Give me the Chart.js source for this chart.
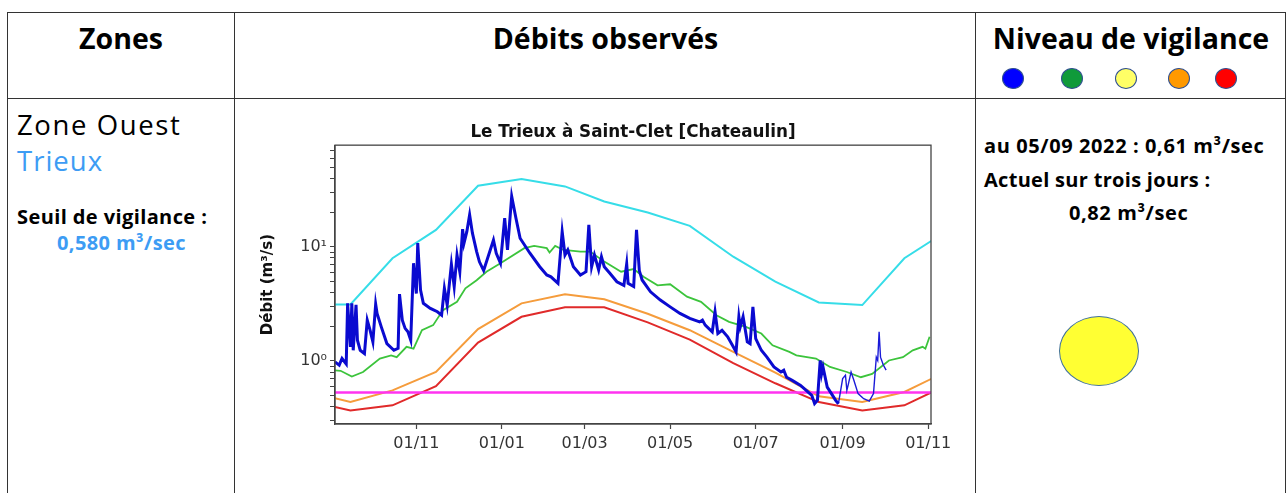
<!DOCTYPE html>
<html lang="fr">
<head>
<meta charset="utf-8">
<title>Débits observés - Trieux</title>
<script src="https://cdn.jsdelivr.net/npm/chart.js@4.4.0/dist/chart.umd.min.js"></script>
<style>
  html, body { margin: 0; padding: 0; background: #fff; }
  body { width: 1288px; height: 493px; position: relative; overflow: hidden; font-family: "Open Sans", sans-serif; color: #000; }
  .hl { position: absolute; height: 1px; background: #333; }
  .vl { position: absolute; width: 1px; background: #333; top: 12px; bottom: 0; }
  .txt { position: absolute; white-space: nowrap; line-height: 1; }
  .head { top: 24px; font-size: 28.5px; font-weight: 700; letter-spacing: 0; text-align: center; }
  .bold { font-size: 20px; font-weight: 700; letter-spacing: 0.4px; }
  .blue { color: #3d9cf4; }
  .dot { position: absolute; top: 68px; width: 22px; height: 21px; border-radius: 50%; box-sizing: border-box; border: 1px solid #2f4f8f; }
  #chartBox { position: absolute; left: 240px; top: 115px; width: 785px; height: 345px; }
</style>
</head>
<body>
<div class="hl" style="left:7px; width:1279px; top:12px;"></div>
<div class="hl" style="left:7px; width:1279px; top:98px;"></div>
<div class="vl" style="left:7px;"></div>
<div class="vl" style="left:234px;"></div>
<div class="vl" style="left:975px;"></div>
<div class="vl" style="left:1285px;"></div>

<div class="txt head" style="left:7px; width:228px;">Zones</div>
<div class="txt head" style="left:235px; width:741px;">Débits observés</div>
<div class="txt head" style="left:976px; width:310px;">Niveau de vigilance</div>

<div class="dot" style="left:1002px; background:#0000ff;"></div>
<div class="dot" style="left:1061px; background:#109a3a;"></div>
<div class="dot" style="left:1115px; background:#ffff66;"></div>
<div class="dot" style="left:1168px; background:#ff9900;"></div>
<div class="dot" style="left:1215px; background:#ff0000;"></div>

<div class="txt" style="left:17px; top:111px; font-size:27.5px; letter-spacing:1.6px;">Zone Ouest</div>
<div class="txt blue" style="left:17px; top:146.5px; font-size:27.5px; letter-spacing:1px;">Trieux</div>
<div class="txt bold" style="left:17px; top:207px;">Seuil de vigilance :</div>
<div class="txt bold blue" style="left:57px; top:233px;">0,580 m³/sec</div>

<div class="txt bold" style="left:984px; top:136px; letter-spacing:0.6px;">au 05/09 2022 : 0,61 m³/sec</div>
<div class="txt bold" style="left:984px; top:170px; letter-spacing:0.3px;">Actuel sur trois jours :</div>
<div class="txt bold" style="left:1069px; top:203px; letter-spacing:0.6px;">0,82 m³/sec</div>

<div style="position:absolute; left:1059px; top:316px; width:80px; height:70px; box-sizing:border-box; border-radius:50%; background:#ffff33; border:1.2px solid #41719c;"></div>

<div id="chartBox"><canvas id="myChart" width="785" height="345"></canvas></div>

<script>
const chartTitle = 'Le Trieux à Saint-Clet [Chateaulin]';
const yTitle = 'Débit (m³/s)';

// x axis
const axisStart = '2021-09-04';
const axisEnd = '2022-11-03';
const tickDates = ['2021-11-01', '2022-01-01', '2022-03-01', '2022-05-01', '2022-07-01', '2022-09-01', '2022-11-01'];
const tickLabels = ['01/11', '01/01', '01/03', '01/05', '01/07', '01/09', '01/11'];

// y axis (log)
const yMin = 0.28;
const yMax = 78;
const yTickValues = [0.3, 0.4, 0.5, 0.6, 0.7, 0.8, 0.9, 1, 2, 3, 4, 5, 6, 7, 8, 9, 10, 20, 30, 40, 50, 60, 70];
const yMajor = [1, 10];
const yMajorLabels = ['10⁰', '10¹'];

// monthly reference curves
const monthDates = ['2021-08-15', '2021-09-15', '2021-10-15', '2021-11-15', '2021-12-15', '2022-01-15', '2022-02-15', '2022-03-15',
  '2022-04-15', '2022-05-15', '2022-06-15', '2022-07-15', '2022-08-15', '2022-09-15', '2022-10-15', '2022-11-15'];
const cyanValues = [3.1, 3.13, 7.95, 14.1, 34.4, 39.3, 33.9, 25.0, 20.0, 15.3, 8.2, 4.95, 3.26, 3.09, 7.95, 14.0];
const orangeValues = [0.54, 0.436, 0.552, 0.80, 1.9, 3.2, 3.84, 3.47, 2.59, 1.86, 1.2, 0.79, 0.49, 0.436, 0.534, 0.82];
const redValues = [0.45, 0.368, 0.408, 0.60, 1.45, 2.44, 2.95, 2.95, 2.18, 1.54, 0.955, 0.637, 0.436, 0.368, 0.408, 0.62];

const greenDates = ['2021-09-01', '2021-09-08', '2021-09-16', '2021-09-24', '2021-10-06', '2021-10-14', '2021-10-18', '2021-10-25',
  '2021-10-30', '2021-11-05', '2021-11-13', '2021-11-20', '2021-11-30', '2021-12-06', '2021-12-14', '2021-12-21', '2021-12-31',
  '2022-01-17', '2022-01-24', '2022-02-02', '2022-02-04', '2022-02-08', '2022-02-14', '2022-02-26', '2022-03-05', '2022-03-15',
  '2022-03-27', '2022-04-05', '2022-04-12', '2022-04-22', '2022-05-01', '2022-05-13', '2022-05-23', '2022-06-03', '2022-06-12',
  '2022-06-24', '2022-07-05', '2022-07-13', '2022-07-25', '2022-07-30', '2022-08-13', '2022-08-23', '2022-09-04', '2022-09-14',
  '2022-09-22', '2022-10-04', '2022-10-14', '2022-10-21', '2022-10-28', '2022-10-30', '2022-11-02'];
const greenValues = [0.83, 0.82, 0.73, 0.80, 1.05, 1.12, 1.08, 1.33,
  1.28, 1.86, 2.06, 2.79, 3.30, 4.33, 5.1, 6.06, 7.19,
  9.75, 10.2, 9.75, 8.93, 10.2, 9.4, 9.1, 9.1, 7.43,
  6.06, 6.4, 5.47, 4.6, 4.7, 3.66, 3.30, 2.52, 2.2,
  1.99, 1.74, 1.37, 1.2, 1.12, 1.05, 0.886, 0.80, 0.72,
  0.77, 1.01, 1.08, 1.24, 1.33, 1.28, 1.63];

const seuilDates = ['2021-09-01', '2022-11-15'];
const seuilValues = [0.53, 0.53];

// observed discharge (validated, thick)
const obsDates = ['2021-09-04', '2021-09-07', '2021-09-09', '2021-09-12', '2021-09-13', '2021-09-15', '2021-09-16', '2021-09-17',
  '2021-09-19', '2021-09-20', '2021-09-22', '2021-09-25', '2021-09-27', '2021-09-29', '2021-10-01', '2021-10-03', '2021-10-04',
  '2021-10-07', '2021-10-11', '2021-10-16', '2021-10-19', '2021-10-20', '2021-10-22', '2021-10-24', '2021-10-26', '2021-10-28',
  '2021-10-30', '2021-11-01', '2021-11-02', '2021-11-04', '2021-11-06', '2021-11-11', '2021-11-16', '2021-11-19', '2021-11-21',
  '2021-11-23', '2021-11-26', '2021-11-28', '2021-11-30', '2021-12-02', '2021-12-04', '2021-12-05', '2021-12-07', '2021-12-09',
  '2021-12-11', '2021-12-14', '2021-12-16', '2021-12-19', '2021-12-26', '2021-12-28', '2021-12-31', '2022-01-03', '2022-01-05',
  '2022-01-08', '2022-01-11', '2022-01-14', '2022-01-21', '2022-01-28', '2022-02-02', '2022-02-05', '2022-02-10', '2022-02-13',
  '2022-02-15', '2022-02-17', '2022-02-21', '2022-02-26', '2022-03-02', '2022-03-04', '2022-03-06', '2022-03-08', '2022-03-11',
  '2022-03-13', '2022-03-15', '2022-03-19', '2022-03-24', '2022-03-29', '2022-03-31', '2022-04-01', '2022-04-05', '2022-04-07',
  '2022-04-09', '2022-04-11', '2022-04-17', '2022-04-24', '2022-05-01', '2022-05-08', '2022-05-15', '2022-05-22', '2022-05-24',
  '2022-05-26', '2022-05-31', '2022-06-02', '2022-06-04', '2022-06-07', '2022-06-11', '2022-06-15', '2022-06-17', '2022-06-19',
  '2022-06-20', '2022-06-22', '2022-06-25', '2022-06-27', '2022-06-29', '2022-07-01', '2022-07-05', '2022-07-09', '2022-07-14',
  '2022-07-19', '2022-07-21', '2022-07-23', '2022-07-27', '2022-08-02', '2022-08-06', '2022-08-10', '2022-08-12', '2022-08-14',
  '2022-08-16', '2022-08-17', '2022-08-18', '2022-08-21', '2022-08-24', '2022-08-27', '2022-08-29'];
const obsValues = [0.98, 0.92, 1.05, 0.94, 3.2, 1.33, 3.2, 1.24,
  3.1, 1.52, 1.24, 1.16, 2.28, 1.86, 1.47, 3.15, 2.61,
  1.99, 1.42, 1.24, 1.29, 3.86, 2.28, 1.93, 1.80, 1.52,
  7.19, 3.9, 10.8, 4.18, 3.2, 2.89, 2.7, 2.52, 4.33,
  3.09, 7.05, 4.49, 8.5, 6.06, 14.3, 10.8, 13.6, 19.1,
  13.2, 9.1, 7.4, 6.2, 11.5, 8.8, 7.19, 17.9, 9.4,
  27.7, 17.9, 11.9, 8.8, 6.7, 5.67, 5.47, 4.8, 13.6,
  8.5, 9.4, 6.7, 5.67, 6.06, 15.6, 6.7, 8.5, 6.28,
  8.2, 6.7, 5.87, 4.95, 4.6, 7.1, 4.8, 4.49, 14.1,
  6.2, 5.13, 4.04, 3.42, 2.98, 2.61, 2.36, 2.2, 2.28,
  2.06, 1.80, 2.7, 1.74, 1.86, 1.63, 1.33, 1.2, 2.44,
  1.99, 2.44, 1.47, 1.42, 2.98, 1.57, 1.24, 1.08, 0.886,
  0.80, 0.83, 0.72, 0.676, 0.611, 0.552, 0.499, 0.422, 0.45,
  1.01, 0.775, 0.886, 0.59, 0.517, 0.451, 0.422];

// recent discharge (provisional, thin)
const provDates = ['2022-08-29', '2022-09-01', '2022-09-03', '2022-09-04', '2022-09-05', '2022-09-07', '2022-09-09', '2022-09-12',
  '2022-09-16', '2022-09-20', '2022-09-23', '2022-09-25', '2022-09-26', '2022-09-27', '2022-09-28', '2022-09-30', '2022-10-02'];
const provValues = [0.422, 0.70, 0.75, 0.552, 0.62, 0.80, 0.676, 0.517,
  0.467, 0.445, 0.517, 1.08, 1.01, 1.8, 1.08, 0.92, 0.83];

const DAY0 = Date.parse('2021-11-01');
const toDay = function (s) { return (Date.parse(s) - DAY0) / 86400000; };
const points = function (dates, values) {
    return dates.map((d, i) => ({ x: toDay(d), y: values[i] }));
};

const serie = function (dates, values, color, width) {
    return {
        data: points(dates, values),
        borderColor: color,
        borderWidth: width,
        pointRadius: 0,
        tension: 0,
        fill: false
    };
};

const frame = {
    id: 'frame',
    afterDatasetsDraw(chart) {
        const { ctx, chartArea: a } = chart;
        ctx.save();
        ctx.strokeStyle = '#444';
        ctx.lineWidth = 1.3;
        ctx.strokeRect(a.left, a.top, a.right - a.left, a.bottom - a.top);
        ctx.restore();
    }
};

const tickFont = { family: 'DejaVu Sans', size: 16 };

const drawChart = function () {
    let ctx = document.getElementById('myChart').getContext('2d');

    // first dataset is drawn on top
    new Chart(ctx, {
        type: 'line',
        data: {
            datasets: [
                serie(obsDates, obsValues, '#0a0ad0', 3),
                serie(provDates, provValues, '#1a1ad8', 1.4),
                serie(seuilDates, seuilValues, '#ff33f0', 2.5),
                serie(monthDates, redValues, '#e02a2a', 2),
                serie(monthDates, orangeValues, '#f59c3c', 2),
                serie(greenDates, greenValues, '#3cc43c', 1.8),
                serie(monthDates, cyanValues, '#36dde8', 2)
            ]
        },
        options: {
            responsive: false,
            animation: false,
            devicePixelRatio: 1,
            layout: { padding: { left: 0, right: 94, top: 0, bottom: 0 } },
            plugins: {
                legend: { display: false },
                tooltip: { enabled: false },
                title: {
                    display: true,
                    fullSize: false,
                    text: chartTitle,
                    color: '#111',
                    font: { family: 'DejaVu Sans', size: 16.8, weight: 'bold' },
                    padding: { top: 7.5, bottom: 2.5 }
                }
            },
            scales: {
                x: {
                    type: 'linear',
                    min: toDay(axisStart),
                    max: toDay(axisEnd),
                    afterBuildTicks: s => { s.ticks = tickDates.map(d => ({ value: toDay(d) })); },
                    afterFit: s => { s.height = 36; },
                    ticks: {
                        autoSkip: false, maxRotation: 0, padding: 5, color: '#333', font: tickFont,
                        callback: (v, i) => tickLabels[i]
                    },
                    grid: { drawOnChartArea: false, drawTicks: true, tickLength: 5, tickColor: '#444', tickWidth: 1.2 },
                    border: { display: true, color: '#444', width: 1.3 }
                },
                y: {
                    type: 'logarithmic',
                    min: yMin,
                    max: yMax,
                    afterBuildTicks: s => { s.ticks = yTickValues.map(v => ({ value: v, major: yMajor.includes(v) })); },
                    afterFit: s => { s.width = 95; },
                    ticks: {
                        autoSkip: false, padding: 3, color: '#333', font: tickFont,
                        callback: v => { const k = yMajor.indexOf(v); return k >= 0 ? yMajorLabels[k] : ''; }
                    },
                    grid: { drawOnChartArea: false, drawTicks: true, tickLength: 5, tickColor: '#444', tickWidth: 1 },
                    border: { display: true, color: '#444', width: 1.3 },
                    title: {
                        display: true, text: yTitle, color: '#111',
                        font: { family: 'DejaVu Sans', size: 15, weight: 'bold' },
                        padding: { top: 19, bottom: 0 }
                    }
                }
            }
        },
        plugins: [frame]
    });
};

document.addEventListener('DOMContentLoaded', function () {
    drawChart();
});
</script>
</body>
</html>
